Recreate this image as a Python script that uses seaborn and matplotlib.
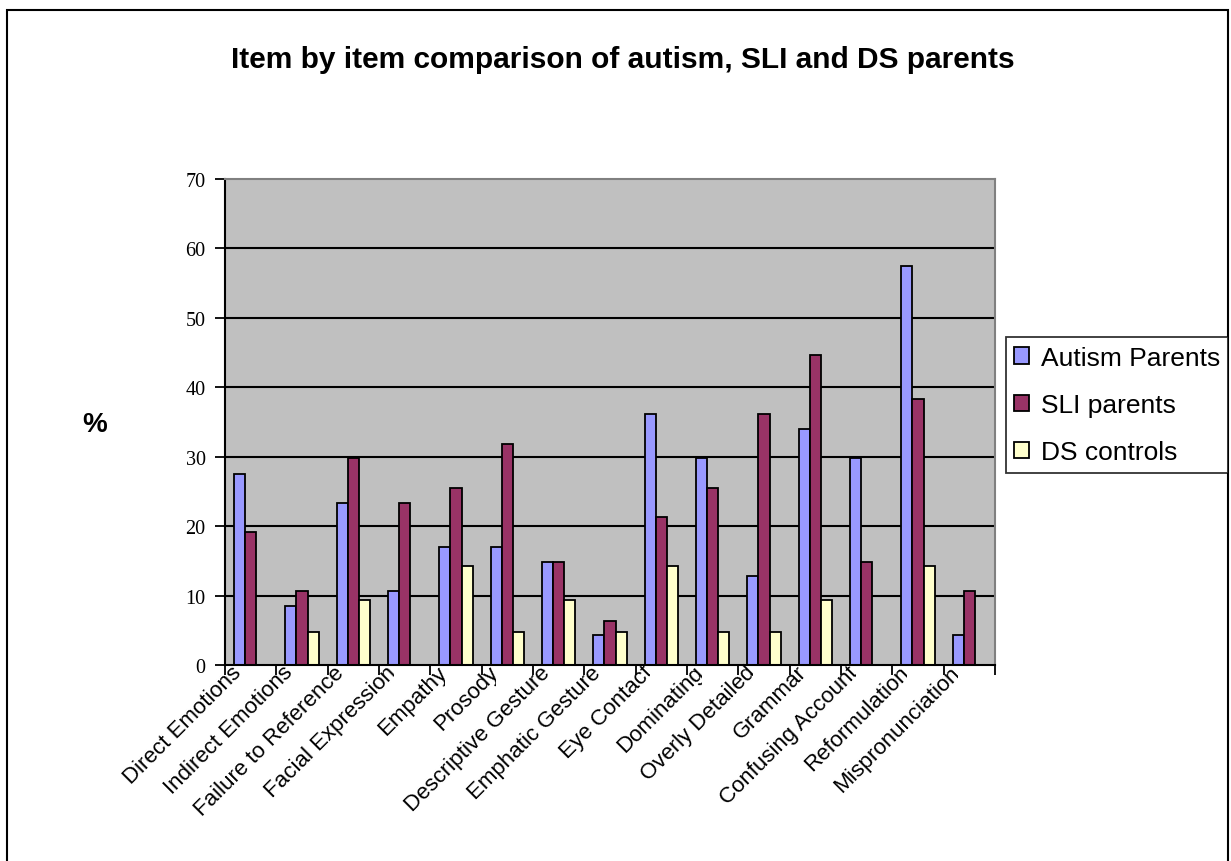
import matplotlib
matplotlib.use("Agg")
import matplotlib.pyplot as plt
import seaborn as sns
import pandas as pd
from matplotlib.patches import Patch, Rectangle
from matplotlib.transforms import Bbox, ScaledTranslation

categories = ["Direct Emotions", "Indirect Emotions", "Failure to Reference",
              "Facial Expression", "Empathy", "Prosody", "Descriptive Gesture",
              "Emphatic Gesture", "Eye Contact", "Dominating", "Overly Detailed",
              "Grammar", "Confusing Account", "Reformulation", "Mispronunciation"]
series_names = ["Autism Parents", "SLI parents", "DS controls"]
autism = [27.5, 8.5, 23.4, 10.6, 17.0, 17.0, 14.9, 4.3, 36.2, 29.8, 12.8, 34.0, 29.8, 57.4, 4.3]
sli = [19.1, 10.6, 29.8, 23.4, 25.5, 31.9, 14.9, 6.4, 21.3, 25.5, 36.2, 44.7, 14.9, 38.3, 10.6]
ds = [0, 4.8, 9.4, 0, 14.2, 4.8, 9.4, 4.8, 14.2, 4.8, 4.8, 9.4, 0, 14.2, 0]
colors = ["#9999FF", "#993366", "#FFFFCC"]
yticks = [0, 10, 20, 30, 40, 50, 60, 70]

rows = []
for name, vals in zip(series_names, [autism, sli, ds]):
    for c, v in zip(categories, vals):
        rows.append({"Item": c, "Group": name, "Value": v})
df = pd.DataFrame(rows)

sns.set_style("white")
plt.rcParams['font.family'] = ['Liberation Sans', 'DejaVu Sans']
for k in ["text.color", "axes.labelcolor", "xtick.color", "ytick.color"]:
    plt.rcParams[k] = "black"

W, H = 1231, 862
DPI = 100
fig = plt.figure(figsize=(W / DPI, H / DPI), dpi=DPI)
ax = fig.add_axes([225 / W, 1 - 666 / H, (995 - 225) / W, (666 - 180) / H])
ax.set_facecolor("#C0C0C0")

sns.barplot(data=df, x="Item", y="Value", hue="Group", order=categories,
            hue_order=series_names, palette=colors, edgecolor="black",
            linewidth=1.3, width=0.65, ax=ax, legend=False, saturation=1)

ax.set_ylim(0, 70)
ax.set_xlim(-0.5, len(categories) - 0.5)
for y in yticks[1:-1]:
    ax.axhline(y, color="black", linewidth=1.5, zorder=0.5)
ax.set_axisbelow(True)

ax.set_yticks(yticks)
ax.set_yticklabels([str(t) for t in yticks], fontfamily="Liberation Serif", fontsize=14.5)
ax.tick_params(axis="y", direction="out", length=7, width=1.3, color="black", pad=7, left=True)

ax.set_xticks([i + 0.5 for i in range(-1, len(categories))])
ax.set_xticklabels([])
ax.tick_params(axis="x", direction="out", length=7, width=1.3, color="black", bottom=True)
ax.set_xlabel("")
ax.set_ylabel("")

# category labels (rotated, clipped like the original)
off = ScaledTranslation(-12 / DPI, -4 / DPI, fig.dpi_scale_trans)
for i, c in enumerate(categories):
    cx, _ = ax.transData.transform((i, 0))
    t = ax.text(i, 0, c, transform=ax.get_xaxis_transform() + off,
                rotation=45, rotation_mode="anchor", ha="right", va="center",
                fontsize=16, color="black")
    t.set_clip_on(True)
    t.set_clip_box(Bbox.from_extents(0, 0, cx - 11, H))

for s in ["left", "bottom"]:
    ax.spines[s].set_color("black")
    ax.spines[s].set_linewidth(1.5)
for s in ["top", "right"]:
    ax.spines[s].set_color("#808080")
    ax.spines[s].set_linewidth(1.5)

fig.text(623 / W, 1 - 60 / H, "Item by item comparison of autism, SLI and DS parents",
         ha="center", va="center", fontsize=21.5, fontweight="bold")
fig.text(95 / W, 1 - 425 / H, "%", ha="center", va="center", fontsize=20, fontweight="bold")

handles = [Patch(facecolor=c, edgecolor="black", linewidth=1.3) for c in colors]
leg = fig.legend(handles, series_names, loc="center left",
                 bbox_to_anchor=(1006 / W, 1 - 406 / H), fontsize=19,
                 frameon=True, fancybox=False, edgecolor="black",
                 handlelength=0.57, handleheight=0.57, handletextpad=0.42,
                 labelspacing=0.88, borderpad=0.32, borderaxespad=0)
leg.get_frame().set_linewidth(1.3)

fig.patches.append(Rectangle((7 / W, -0.1), (1228 - 7) / W, 1 - 11 / H + 0.1,
                             transform=fig.transFigure, fill=False,
                             edgecolor="black", linewidth=1.5))

fig.savefig("out.png", dpi=DPI)
